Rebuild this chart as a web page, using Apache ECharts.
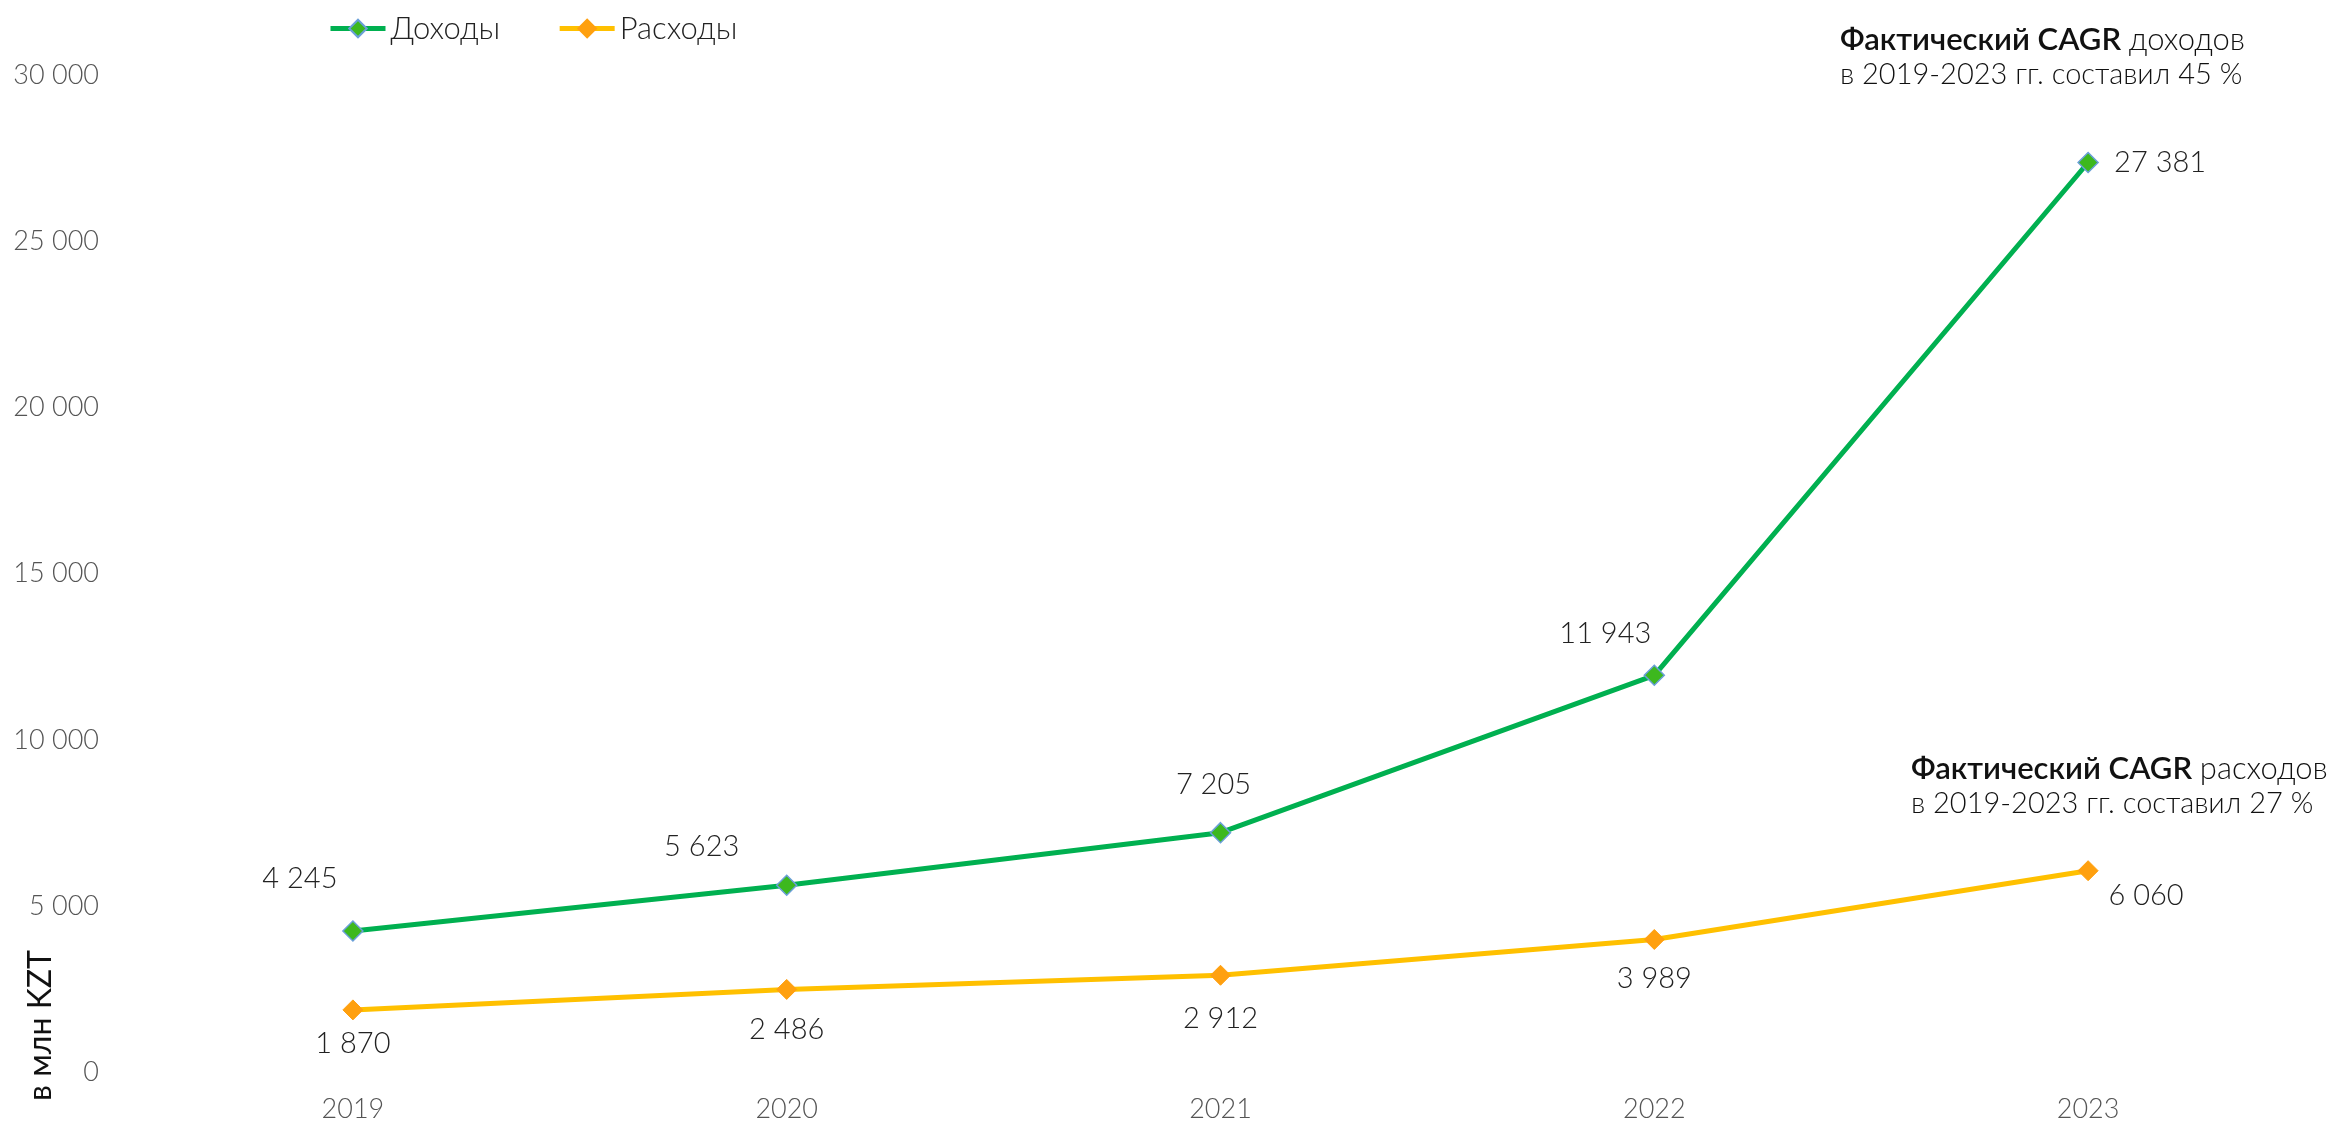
<!DOCTYPE html>
<html>
<head>
<meta charset="utf-8">
<script src="https://cdn.jsdelivr.net/npm/echarts@6/dist/echarts.min.js"></script>
<style>
  html, body { margin: 0; padding: 0; background: #fff; }
  #chart { width: 2346px; height: 1123px; }
</style>
</head>
<body>
<div id="chart"></div>
<script>
// данные графика
const years = ['2019', '2020', '2021', '2022', '2023']
const income = [4245, 5623, 7205, 11943, 27381]
const expenses = [1870, 2486, 2912, 3989, 6060]
const yTicks = { min: 0, max: 30000, interval: 5000 }

// смещения подписей значений (px)
const incomeLabelOffsets = [[-53, -52], [-85, -39], [-7, -48], [-49, -42], [72, 0]]
const expenseLabelOffsets = [[0, 34], [0, 40], [0, 43], [0, 39], [58, 25]]

const FONT = 'Lato'
const fmt = v => String(v).replace(/\B(?=(\d{3})+(?!\d))/g, ' ')

const makeData = (values, offsets) => values.map((v, i) => ({
  value: v,
  label: { offset: offsets[i] }
}))

const noteRich = {
  b: { fontSize: 31, fontWeight: 600, fill: '#111', fontFamily: FONT, lineHeight: 35 },
  r1: { fontSize: 31, fontWeight: 300, fill: '#111', fontFamily: FONT, lineHeight: 35 },
  r: { fontSize: 29, fontWeight: 300, fill: '#111', fontFamily: FONT, lineHeight: 35 }
}

const chart = echarts.init(document.getElementById('chart'))

chart.setOption({
  backgroundColor: '#fff',
  textStyle: { fontFamily: FONT },
  grid: { left: 136, right: 41, top: 75.5, bottom: 48.5 },
  legend: {
    left: 323,
    top: 8,
    itemWidth: 55,
    itemHeight: 22,
    itemGap: 57,
    lineStyle: { width: 5 },
    textStyle: { fontSize: 31, fontWeight: 300, color: '#222', fontFamily: FONT },
    data: ['Доходы', 'Расходы']
  },
  xAxis: {
    type: 'category',
    data: years,
    axisLine: { show: false },
    axisTick: { show: false },
    axisLabel: { fontSize: 27, fontWeight: 300, color: '#555', margin: 24, fontFamily: FONT }
  },
  yAxis: {
    type: 'value',
    min: yTicks.min,
    max: yTicks.max,
    interval: yTicks.interval,
    splitLine: { show: false },
    axisLabel: {
      fontSize: 27, fontWeight: 300, color: '#555', margin: 37, fontFamily: FONT,
      formatter: fmt
    }
  },
  graphic: [
    {
      type: 'text',
      left: 25,
      top: 950,
      rotation: Math.PI / 2,
      style: { text: 'в млн KZT', fontSize: 32, fill: '#111', fontFamily: FONT }
    },
    {
      type: 'text',
      left: 1840,
      top: 24,
      style: {
        text: '{b|Фактический CAGR }{r1|доходов}\n{r|в 2019-2023 гг. составил 45 %}',
        rich: noteRich
      }
    },
    {
      type: 'text',
      left: 1911,
      top: 753,
      style: {
        text: '{b|Фактический CAGR }{r1|расходов}\n{r|в 2019-2023 гг. составил 27 %}',
        rich: noteRich
      }
    }
  ],
  series: [
    {
      name: 'Доходы',
      type: 'line',
      data: makeData(income, incomeLabelOffsets),
      symbol: 'diamond',
      symbolSize: 20,
      lineStyle: { color: '#00B050', width: 5 },
      itemStyle: { color: '#3DB81E', borderColor: '#6A9FD8', borderWidth: 1.5 },
      label: {
        show: true,
        position: 'inside',
        fontSize: 29,
        fontWeight: 300,
        color: '#222',
        fontFamily: FONT,
        formatter: p => fmt(p.value)
      },
      z: 3
    },
    {
      name: 'Расходы',
      type: 'line',
      data: makeData(expenses, expenseLabelOffsets),
      symbol: 'diamond',
      symbolSize: 20,
      lineStyle: { color: '#FFC000', width: 5 },
      itemStyle: { color: '#FFA00F', borderColor: '#FFA00F', borderWidth: 1 },
      label: {
        show: true,
        position: 'inside',
        fontSize: 29,
        fontWeight: 300,
        color: '#222',
        fontFamily: FONT,
        formatter: p => fmt(p.value)
      }
    }
  ]
})
</script>
</body>
</html>
